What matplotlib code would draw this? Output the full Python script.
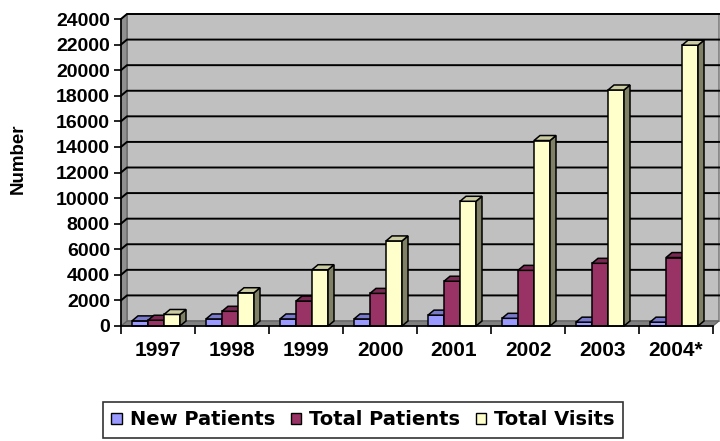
import matplotlib
matplotlib.use("Agg")
import matplotlib.pyplot as plt
from matplotlib.patches import Polygon, Rectangle
from matplotlib.lines import Line2D

years = ["1997", "1998", "1999", "2000", "2001", "2002", "2003", "2004*"]
new_patients = [400, 550, 550, 550, 850, 600, 300, 300]
total_patients = [450, 1150, 1950, 2550, 3500, 4350, 4900, 5350]
total_visits = [900, 2600, 4400, 6650, 9750, 14500, 18450, 21950]
series_names = ["New Patients", "Total Patients", "Total Visits"]
series_values = [new_patients, total_patients, total_visits]
front_colors = ["#9999FF", "#993366", "#FFFFCC"]
top_colors = ["#7A7ACC", "#7A2952", "#CCCCA3"]
side_colors = ["#4D4D80", "#4D1A33", "#808066"]
yticks = list(range(0, 24001, 2000))

FONT = "Liberation Sans"
plt.rcParams["font.family"] = [FONT, "DejaVu Sans"]

W, H = 720, 441
fig = plt.figure(figsize=(W / 100, H / 100), dpi=100)
ax_l, ax_b, ax_w, ax_h = 121, 115, 592, 307
ax = fig.add_axes([ax_l / W, ax_b / H, ax_w / W, ax_h / H])
ax.patch.set_visible(False)

ymax = 24000
ncat = len(years)
ax.set_xlim(0, ncat)
ax.set_ylim(0, ymax)

# 3D depth in pixels -> axes fraction / data units
dpx, dpy = 6, 5
dxa, dya = dpx / ax_w, dpy / ax_h
dxd, dyd = dxa * ncat, dya * ymax

# walls
ax.add_patch(Polygon([(0, 0), (1, 0), (1 + dxa, dya), (dxa, dya)], closed=True,
                     transform=ax.transAxes, facecolor="#808080", edgecolor="#606060",
                     lw=0.8, clip_on=False, zorder=0.5))
ax.add_patch(Polygon([(0, 0), (0, 1), (dxa, 1 + dya), (dxa, dya)], closed=True,
                     transform=ax.transAxes, facecolor="#909090", edgecolor="#606060",
                     lw=0.8, clip_on=False, zorder=0.5))
ax.add_patch(Rectangle((dxa, dya), 1, 1, transform=ax.transAxes,
                       facecolor="#C0C0C0", edgecolor="#808080", lw=1.2,
                       clip_on=False, zorder=0.4))
for t in yticks[1:]:
    yf = t / ymax
    ax.add_line(Line2D([0, dxa, 1 + dxa], [yf, yf + dya, yf + dya],
                       transform=ax.transAxes, color="black", lw=1.4,
                       clip_on=False, zorder=0.6))

# bars
bw = 16 / (ax_w / ncat)
start = 11 / (ax_w / ncat)
z = 2
for i in range(ncat):
    for j, vals in enumerate(series_values):
        v = vals[i]
        x0 = i + start + j * bw
        x1 = x0 + bw
        ax.add_patch(Rectangle((x0, 0), bw, v, facecolor=front_colors[j],
                               edgecolor="black", lw=1.1, zorder=z, clip_on=False))
        ax.add_patch(Polygon([(x1, 0), (x1, v), (x1 + dxd, v + dyd), (x1 + dxd, dyd)],
                             closed=True, facecolor=side_colors[j], edgecolor="black",
                             lw=1.1, zorder=z, clip_on=False))
        ax.add_patch(Polygon([(x0, v), (x1, v), (x1 + dxd, v + dyd), (x0 + dxd, v + dyd)],
                             closed=True, facecolor=top_colors[j], edgecolor="black",
                             lw=1.1, zorder=z, clip_on=False))
        z += 0.01

# axes
for s in ["top", "right"]:
    ax.spines[s].set_visible(False)
for s in ["left", "bottom"]:
    ax.spines[s].set_color("black")
    ax.spines[s].set_linewidth(1.2)
    ax.spines[s].set_zorder(3)

ax.set_yticks(yticks)
ax.set_yticklabels([str(t) for t in yticks], fontsize=14, fontweight="bold")
ax.set_xticks(range(ncat + 1), minor=False)
ax.set_xticklabels([""] * (ncat + 1))
ax.set_xticks([i + 0.5 for i in range(ncat)], minor=True)
ax.set_xticklabels(years, minor=True, fontsize=15, fontweight="bold")
ax.tick_params(axis="x", which="minor", length=0, pad=11)
ax.tick_params(axis="x", which="major", length=6, width=1.2, direction="out")
ax.tick_params(axis="y", length=5, width=1.2, direction="out", pad=3)

fig.text(18 / W, 1 - 159 / H, "Number", rotation=90, ha="center", va="center",
         fontsize=13.5, fontweight="bold")

handles = [Rectangle((0, 0), 1, 1, facecolor=c, edgecolor="black", lw=1.0)
           for c in front_colors]
leg = fig.legend(handles, series_names, loc="lower center", ncol=3,
                 bbox_to_anchor=(363 / W, 3 / H), frameon=True, fancybox=False,
                 edgecolor="black",
                 prop={"family": "DejaVu Sans", "weight": "bold", "size": 14},
                 handlelength=0.55, handleheight=0.55, handletextpad=0.4,
                 columnspacing=0.8, borderpad=0.45, borderaxespad=0)
leg.get_frame().set_linewidth(1.2)

fig.savefig("out.png", dpi=100)
